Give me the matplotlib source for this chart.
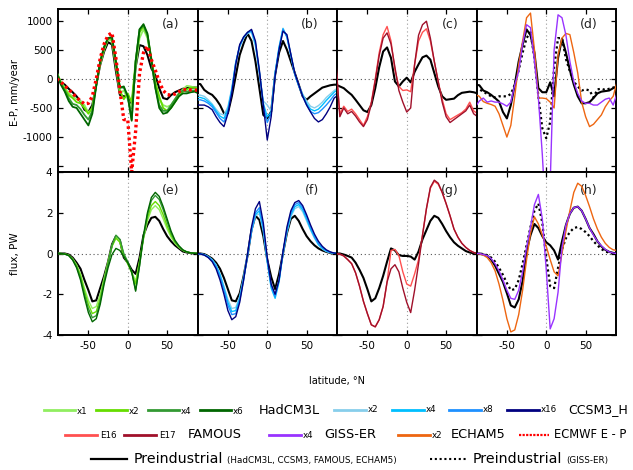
import matplotlib
matplotlib.use('Agg')
import matplotlib.pyplot as plt
from matplotlib.lines import Line2D
import numpy as np

# ---------------- data ----------------
lat = np.arange(-90, 91, 5)

# E-P (mm/year)
ep_had_pi = [-20,-60,-100,-170,-230,-300,-390,-530,-570, -450,-100,240,470,630,590,130,-275,-300,
             -300,-500,200,580,560,410,180,60,-160, -330,-350,-280,-230,-200,-170,-160,-150,-150,-150]
ep_had_x1 = [100,-50,-150,-250,-300,-350,-380,-450,-580, -500,-100,250,500,680,650,200,-250,-200,
             -350,-500,200,700,850,700,300,-100,-350, -450,-480,-450,-350,-250,-180,-120,-130,-150,-150]
ep_had_x2 = [100,-60,-180,-280,-330,-400,-420,-500,-600, -500,-80,280,520,700,680,250,-200,-350,
             -250,-400,300,800,900,750,350,-50,-300, -500,-550,-500,-400,-300,-220,-180,-150,-150,-180]
ep_had_x4 = [100,-80,-200,-330,-430,-450,-520,-620,-700, -550,-100,300,550,700,700,280,-150,-150,
             -300,-700,300,850,920,750,300,-150,-450, -550,-550,-450,-350,-250,-200,-220,-200,-200,-250]
ep_had_x6 = [100,-100,-220,-380,-480,-500,-600,-700,-800, -600,-120,300,550,700,720,300,-150,-130,
             -300,-720,300,850,940,780,330,-150,-500, -600,-580,-500,-400,-300,-250,-250,-230,-220,-250]
ep_ecmwf = [0,-50,-120,-180,-250,-320,-380,-430,-420, -300,0,350,600,750,790,350,-200,-700,
            -700,-1600,-900,100,450,560,330,150,-50, -200,-270,-280,-260,-220,-190,-180,-190,-190,-200]

ep_ccsm_pi = [-80,-90,-190,-240,-275,-350,-450,-590,-590, -300,50,410,610,780,650,300,-160,-620,
              -680,-560,70,450,650,500,300,100,-100, -300,-360,-300,-250,-200,-150,-130,-110,-100,-100]
ep_ccsm_x2 = [-270,-280,-300,-360,-430,-520,-600,-620,-480, -160,280,550,700,780,800,560,100,-380,
              -450,-550,100,550,870,720,400,80,-110, -260,-380,-470,-500,-460,-400,-320,-260,-200,-150]
ep_ccsm_x4 = [-320,-320,-340,-390,-450,-550,-640,-680,-520, -180,280,560,710,790,820,600,120,-420,
              -650,-580,100,540,860,720,400,80,-120, -280,-420,-520,-550,-520,-450,-370,-300,-230,-180]
ep_ccsm_x8 = [-360,-360,-380,-420,-480,-580,-680,-740,-560, -200,280,570,720,800,830,620,120,-450,
              -750,-600,80,520,850,720,420,80,-120, -300,-450,-560,-600,-580,-520,-450,-370,-280,-230]
ep_ccsm_x16 = [-450,-450,-450,-480,-530,-650,-750,-820,-600, -250,250,590,720,800,850,650,150,-450,
               -1050,-650,50,500,820,760,420,100,-100, -300,-450,-570,-680,-740,-700,-600,-480,-330,-280]

ep_fam_pi = [-100,-130,-160,-220,-275,-360,-450,-540,-570, -450,-160,200,470,540,360,-45,-130,-45,
             20,-60,120,250,370,400,330,100,-130, -300,-360,-350,-340,-280,-240,-230,-220,-230,-250]
ep_fam_e16 = [200,-600,-470,-560,-520,-600,-700,-800,-650, -400,0,450,760,900,650,150,-130,-200,
              -190,-220,250,650,800,860,650,300,-50, -350,-600,-700,-660,-620,-580,-520,-400,-550,-600]
ep_fam_e17 = [300,-650,-500,-600,-560,-640,-740,-820,-700, -430,-30,400,700,790,600,200,-200,-400,
              -570,-500,250,750,930,990,700,300,-50, -400,-650,-750,-700,-650,-600,-550,-450,-600,-650]

ep_echam_pi = [-100,-110,-200,-230,-275,-330,-390,-570,-680, -450,-100,300,590,850,750,450,-160,-230,
               -230,-60,-300,360,690,450,150,-100,-300, -420,-420,-400,-330,-250,-220,-210,-200,-160,-130]
ep_echam_x2 = [-270,-300,-390,-420,-440,-470,-600,-800,-1000, -800,-300,250,650,1050,1130,500,-330,-330,
               -340,-400,-500,410,700,780,760,450,100, -400,-650,-820,-780,-700,-620,-480,-380,-300,-50]
ep_giss_x4 = [-480,-380,-330,-400,-380,-400,-400,-430,-470, -400,-100,130,600,930,880,300,-330,-1300,
              -2500,-1800,500,1100,1050,750,300,-50,-250, -380,-420,-420,-450,-450,-400,-350,-330,-450,-250]
ep_giss_pi = [-160,-180,-220,-260,-300,-320,-300,-300,-300, -260,-100,150,450,700,800,350,-300,-850,
              -1020,-740,200,700,700,340,130,-50,-130, -200,-180,-200,-320,-180,-170,-190,-170,-150,-130]

# heat flux (PW)
fx_had_pi = [0,0,0,-0.05,-0.2,-0.45,-0.75,-1.3,-1.8, -2.35,-2.3,-1.7,-1.1,-0.4,0.45,0.85,0.65,-0.2,
             -0.45,-0.8,-1.0,-0.2,0.9,1.4,1.75,1.8,1.6, 1.2,0.85,0.6,0.4,0.25,0.1,0.05,0.02,0,0]
fx_had_x1 = [0,0,-0.02,-0.08,-0.25,-0.55,-1.0,-1.7,-2.3, -2.7,-2.6,-2.0,-1.2,-0.4,0.4,0.85,0.6,-0.1,
             -0.5,-0.9,-1.35,-0.4,0.7,1.6,2.15,2.35,2.15, 1.7,1.2,0.8,0.5,0.3,0.15,0.07,0.03,0.01,0]
fx_had_x2 = [0,0,-0.02,-0.08,-0.28,-0.6,-1.1,-1.85,-2.5, -2.95,-2.85,-2.2,-1.3,-0.45,0.35,0.75,0.55,-0.1,
             -0.5,-0.95,-1.5,-0.4,0.8,1.75,2.35,2.55,2.35, 1.9,1.35,0.9,0.55,0.32,0.16,0.07,0.03,0.01,0]
fx_had_x4 = [0,0,-0.03,-0.1,-0.3,-0.65,-1.2,-2.0,-2.7, -3.15,-3.05,-2.35,-1.4,-0.5,0.4,0.9,0.7,0.0,
             -0.4,-0.9,-1.8,-0.6,0.8,1.9,2.6,2.85,2.65, 2.15,1.55,1.0,0.6,0.35,0.17,0.08,0.03,0.01,0]
fx_had_x6 = [0,0,-0.03,-0.1,-0.32,-0.7,-1.3,-2.15,-2.9, -3.35,-3.2,-2.5,-1.5,-0.7,-0.05,0.25,0.15,-0.15,
             -0.45,-0.9,-1.85,-0.6,0.9,2.0,2.75,3.0,2.8, 2.3,1.7,1.1,0.65,0.38,0.18,0.08,0.03,0.01,0]

fx_ccsm_pi = [0,0,-0.03,-0.13,-0.25,-0.45,-0.75,-1.2,-1.75, -2.3,-2.35,-1.95,-1.1,-0.1,1.15,1.85,1.65,0.85,
              -0.3,-1.15,-1.75,-1.0,0.0,1.0,1.7,1.85,1.6, 1.2,0.85,0.6,0.4,0.25,0.15,0.08,0.03,0.01,0]
fx_ccsm_x2 = [0,-0.02,-0.05,-0.15,-0.3,-0.55,-1.0,-1.6,-2.25, -2.7,-2.65,-2.1,-1.15,0.0,1.1,1.85,1.95,1.1,
              -0.4,-1.6,-2.05,-1.3,0.0,1.05,1.8,2.2,2.3, 2.05,1.6,1.15,0.75,0.42,0.22,0.1,0.04,0.01,0]
fx_ccsm_x4 = [0,-0.02,-0.06,-0.16,-0.32,-0.6,-1.05,-1.7,-2.4, -2.85,-2.8,-2.2,-1.2,-0.05,1.1,1.9,2.1,1.2,
              -0.4,-1.7,-2.2,-1.4,0.0,1.1,1.9,2.3,2.4, 2.15,1.7,1.2,0.8,0.45,0.25,0.12,0.05,0.01,0]
fx_ccsm_x8 = [0,-0.02,-0.07,-0.18,-0.35,-0.65,-1.15,-1.8,-2.55, -3.0,-2.95,-2.3,-1.3,-0.1,1.1,2.0,2.25,1.3,
              -0.3,-1.6,-2.1,-1.3,0.05,1.2,2.0,2.4,2.5, 2.25,1.8,1.3,0.85,0.5,0.3,0.15,0.06,0.02,0]
fx_ccsm_x16 = [0,-0.02,-0.08,-0.2,-0.4,-0.75,-1.3,-2.0,-2.8, -3.25,-3.1,-2.4,-1.3,0.0,1.3,2.2,2.55,1.5,
               -0.2,-1.5,-2.0,-1.3,0.1,1.3,2.1,2.5,2.6, 2.35,1.9,1.4,0.95,0.6,0.35,0.18,0.08,0.02,0]

fx_fam_pi = [0,0,-0.05,-0.12,-0.2,-0.45,-0.8,-1.2,-1.75, -2.35,-2.2,-1.7,-1.1,-0.4,0.25,0.15,-0.08,-0.12,
             -0.12,-0.15,-0.3,0.1,0.7,1.15,1.6,1.85,1.75, 1.45,1.1,0.8,0.55,0.38,0.25,0.12,0.05,0.01,0]
fx_fam_e16 = [0,-0.03,-0.12,-0.3,-0.5,-0.95,-1.6,-2.35,-2.95, -3.5,-3.6,-3.25,-2.6,-1.4,0.15,0.2,-0.1,-0.9,
              -1.5,-1.6,-1.0,-0.3,0.9,2.2,3.2,3.55,3.4, 3.0,2.45,1.85,1.2,0.8,0.5,0.3,0.15,0.05,0]
fx_fam_e17 = [0,-0.03,-0.12,-0.3,-0.5,-0.95,-1.6,-2.35,-2.95, -3.5,-3.6,-3.25,-2.6,-1.4,-0.75,-0.55,-0.9,-1.7,
              -2.4,-2.9,-1.8,-0.5,0.9,2.2,3.25,3.6,3.45, 3.0,2.45,1.85,1.2,0.8,0.5,0.3,0.15,0.05,0]

fx_echam_pi = [0,0,-0.05,-0.1,-0.3,-0.6,-1.0,-1.4,-1.95, -2.55,-2.65,-2.25,-1.35,0.1,0.9,1.45,1.25,0.85,
               0.55,0.4,0.15,-0.3,0.6,1.4,1.95,2.25,2.3, 2.1,1.7,1.25,0.95,0.6,0.35,0.18,0.08,0.03,0]
fx_echam_x2 = [0,-0.02,-0.08,-0.2,-0.45,-0.85,-1.5,-2.3,-3.2, -3.85,-3.75,-3.0,-1.8,-0.3,1.0,1.8,1.45,0.9,
               0.35,-0.3,-0.9,-1.1,0.0,1.1,2.1,3.0,3.45, 3.3,2.85,2.3,1.7,1.2,0.8,0.5,0.3,0.18,0.15]
fx_giss_x4 = [0,0,-0.05,-0.1,-0.25,-0.5,-0.85,-1.3,-1.8, -2.2,-2.25,-1.8,-0.9,0.3,1.3,2.4,2.9,1.7,
              -0.8,-3.7,-3.2,-1.9,0.3,1.4,1.95,2.25,2.3, 2.1,1.7,1.25,0.9,0.6,0.38,0.2,0.08,0.02,0]
fx_giss_pi = [0,0,-0.03,-0.08,-0.2,-0.4,-0.7,-1.05,-1.45, -1.8,-1.75,-1.3,-0.5,0.4,1.3,2.1,2.45,1.5,
              -0.2,-1.6,-1.7,-0.7,0.2,0.75,1.05,1.25,1.3, 1.2,1.05,0.85,0.6,0.4,0.22,0.1,0.04,0.01,0]

# ---------------- styles ----------------
C_HAD = ['#90EE60', '#66DD00', '#339933', '#006600']
C_CCSM = ['#87CEEB', '#00BFFF', '#1E90FF', '#000080']
C_FAM = ['#FF5050', '#A0102A']
C_GISS = '#9933FF'
C_ECHAM = '#EE6611'
C_ECMWF = '#FF0000'

PI = dict(color='black', lw=1.5, zorder=3)
PI_DOT = dict(color='black', lw=1.6, ls=(0, (1, 1.3)), zorder=3)
THIN = 1.0

plt.rcParams['font.family'] = 'DejaVu Sans'
plt.rcParams['axes.unicode_minus'] = False

W, H = 633, 470
fig = plt.figure(figsize=(W / 100, H / 100), dpi=100)

cols = [58, 197.5, 337, 476.5, 616]
rows = [9, 172, 335]


def make_ax(c, r):
    x0, x1 = cols[c], cols[c + 1]
    y0, y1 = rows[r], rows[r + 1]
    return fig.add_axes([x0 / W, 1 - y1 / H, (x1 - x0) / W, (y1 - y0) / H])


panels_top = [
    [(ep_had_pi, PI)] + [(s, dict(color=c, lw=THIN + 0.3, zorder=4)) for s, c in
                         zip([ep_had_x1, ep_had_x2, ep_had_x4, ep_had_x6], C_HAD)]
    + [(ep_ecmwf, dict(color=C_ECMWF, lw=2.4, ls=(0, (0.8, 0.9)), zorder=5))],
    [(ep_ccsm_pi, PI)] + [(s, dict(color=c, lw=THIN, zorder=4)) for s, c in
                          zip([ep_ccsm_x2, ep_ccsm_x4, ep_ccsm_x8, ep_ccsm_x16], C_CCSM)],
    [(ep_fam_pi, PI)] + [(s, dict(color=c, lw=THIN, zorder=4)) for s, c in
                         zip([ep_fam_e16, ep_fam_e17], C_FAM)],
    [(ep_echam_pi, PI), (ep_giss_pi, PI_DOT),
     (ep_echam_x2, dict(color=C_ECHAM, lw=THIN, zorder=4)),
     (ep_giss_x4, dict(color=C_GISS, lw=THIN, zorder=4))],
]
panels_bot = [
    [(fx_had_pi, PI)] + [(s, dict(color=c, lw=THIN, zorder=4)) for s, c in
                         zip([fx_had_x1, fx_had_x2, fx_had_x4, fx_had_x6], C_HAD)],
    [(fx_ccsm_pi, PI)] + [(s, dict(color=c, lw=THIN, zorder=4)) for s, c in
                          zip([fx_ccsm_x2, fx_ccsm_x4, fx_ccsm_x8, fx_ccsm_x16], C_CCSM)],
    [(fx_fam_pi, PI)] + [(s, dict(color=c, lw=THIN, zorder=4)) for s, c in
                         zip([fx_fam_e16, fx_fam_e17], C_FAM)],
    [(fx_echam_pi, PI), (fx_giss_pi, PI_DOT),
     (fx_echam_x2, dict(color=C_ECHAM, lw=THIN, zorder=4)),
     (fx_giss_x4, dict(color=C_GISS, lw=THIN, zorder=4))],
]
letters_top = ['(a)', '(b)', '(c)', '(d)']
letters_bot = ['(e)', '(f)', '(g)', '(h)']

ep_ticks = [-1500, -1000, -500, 0, 500, 1000]
ep_ticklabels = ['', '-1000', '-500', '0', '500', '1000']
fx_ticks = [-4, -2, 0, 2, 4]
fx_ticklabels = ['-4', '-2', '0', '2', '4']
lat_ticks = [-50, 0, 50]


def style(ax, ylim, yt, ytl, show_y, show_x, letter, ytop):
    ax.set_xlim(-88.6, 88.6)
    ax.set_ylim(*ylim)
    ax.axhline(0, color='#555555', lw=0.8, ls=(0, (1, 2.5)), zorder=1)
    ax.axvline(0, color='#9a9a9a', lw=0.8, ls=(0, (1, 2.5)), zorder=1)
    ax.set_xticks(lat_ticks)
    ax.set_yticks(yt)
    ax.tick_params(direction='in', length=3.5, width=0.9, top=True, right=True,
                   labelsize=7.5, pad=4, colors='black')
    if show_y:
        ax.set_yticklabels(ytl)
    else:
        ax.set_yticklabels([])
    if show_x:
        ax.set_xticklabels([str(t) for t in lat_ticks])
    else:
        ax.set_xticklabels([])
    for sp in ax.spines.values():
        sp.set_linewidth(1.4)
    ax.text(0.87, ytop, letter, transform=ax.transAxes, ha='right', va='center',
            fontsize=9, color='#222222')


for i in range(4):
    ax = make_ax(i, 0)
    for vals, kw in panels_top[i]:
        ax.plot(lat, vals, **kw)
    style(ax, (-1600, 1200), ep_ticks, ep_ticklabels, i == 0, False, letters_top[i], 0.905)
    ax = make_ax(i, 1)
    for vals, kw in panels_bot[i]:
        ax.plot(lat, vals, **kw)
    style(ax, (-4, 4), fx_ticks, fx_ticklabels, i == 0, True, letters_bot[i], 0.885)

fig.text(15 / W, 1 - 93 / H, 'E-P, mm/year', rotation=90, ha='center', va='center', fontsize=7.2)
fig.text(15 / W, 1 - 254 / H, 'flux, PW', rotation=90, ha='center', va='center', fontsize=7.5)
fig.text(337 / W, 1 - 381 / H, 'latitude, \u00b0N', ha='center', va='center', fontsize=7)

# ---------------- legend ----------------
leg_rows = [410, 435, 459]


def key(x0, x1, y, **kw):
    fig.add_artist(Line2D([x0 / W, x1 / W], [1 - y / H, 1 - y / H], transform=fig.transFigure, **kw))


def txt(x, y, s, size, **kw):
    fig.text(x / W, 1 - y / H, s, ha='left', va='center', fontsize=size, **kw)


y = leg_rows[0]
for (x0, lab), c in zip([(44, 'x1'), (96, 'x2'), (148, 'x4'), (200, 'x6')], C_HAD):
    key(x0, x0 + 31, y, color=c, lw=2)
    txt(x0 + 33, y + 1, lab, 6.3)
txt(259, y, 'HadCM3L', 9.3)
for (x0, lab), c in zip([(334, 'x2'), (392, 'x4'), (449, 'x8'), (507, 'x16')], C_CCSM):
    key(x0, x0 + 32, y, color=c, lw=2)
    txt(x0 + 34, y, lab, 6.3)
txt(568, y, 'CCSM3_H', 9.0)

y = leg_rows[1]
for (x0, lab), c in zip([(65, 'E16'), (124, 'E17')], C_FAM):
    key(x0, x0 + 32, y, color=c, lw=2)
    txt(x0 + 35, y + 1, lab, 6.3)
txt(188, y, 'FAMOUS', 9.3)
key(269, 301, y, color=C_GISS, lw=2)
txt(303, y, 'x4', 6.3)
txt(324, y, 'GISS-ER', 9.3)
key(398, 430, y, color=C_ECHAM, lw=2)
txt(432, y, 'x2', 6.3)
txt(451, y, 'ECHAM5', 9.3)
key(519, 549, y, color=C_ECMWF, lw=1.6, ls=(0, (1, 0.6)))
txt(554, y, 'ECMWF E - P', 8.3)

y = leg_rows[2]
key(91, 127, y, color='black', lw=1.6)
txt(134, y, 'Preindustrial', 10.2)
txt(227, y + 1, '(HadCM3L, CCSM3, FAMOUS, ECHAM5)', 6.3)
key(430, 466, y, color='black', lw=1.5, ls=(0, (1, 1.3)))
txt(473, y, 'Preindustrial', 10.2)
txt(566, y + 1, '(GISS-ER)', 6.3)

fig.savefig('out.png', dpi=100)
